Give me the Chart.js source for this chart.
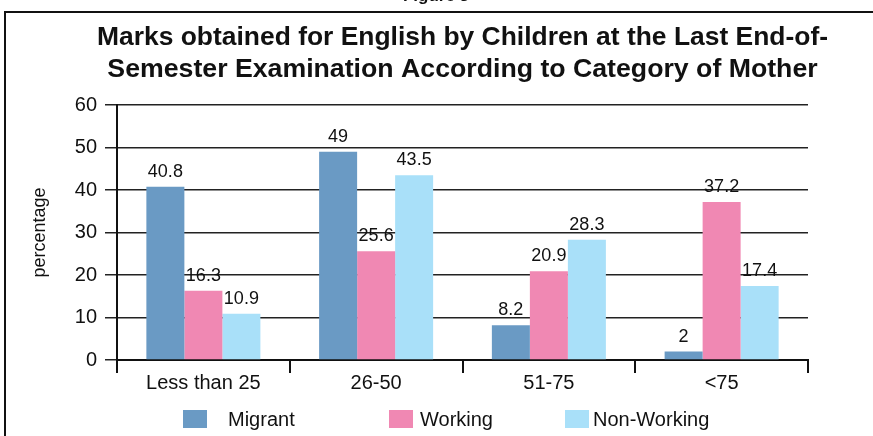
<!DOCTYPE html>
<html>
<head>
<meta charset="utf-8">
<script src="https://cdn.jsdelivr.net/npm/chart.js@4"></script>
<style>
  html, body { margin: 0; padding: 0; background: #fff; }
  #wrap { width: 873px; height: 436px; }
</style>
</head>
<body>
<div id="wrap"><canvas id="myChart" width="873" height="436"></canvas></div>
<script>
const categories = ["Less than 25", "26-50", "51-75", "<75"];
const migrant = [40.8, 49, 8.2, 2];
const working = [16.3, 25.6, 20.9, 37.2];
const nonWorking = [10.9, 43.5, 28.3, 17.4];
const seriesNames = ["Migrant", "Working", "Non-Working"];
const barColors = ["#6a9ac4", "#f088b3", "#a9e0f9"];
const yTicks = [0, 10, 20, 30, 40, 50, 60];

const FONT = "'Liberation Sans', Arial, Helvetica, sans-serif";

// frame + cut-off figure caption
const framePlugin = {
  id: "frame",
  beforeDraw(chart) {
    const ctx = chart.ctx;
    ctx.save();
    ctx.fillStyle = "#111";
    ctx.font = "bold 17px " + FONT;
    ctx.textAlign = "center";
    ctx.textBaseline = "alphabetic";
    ctx.fillText("Figure 3", 436, 1);
    ctx.strokeStyle = "#111";
    ctx.lineWidth = 2;
    ctx.beginPath();
    ctx.moveTo(5, 436);
    ctx.lineTo(5, 12);
    ctx.lineTo(873, 12);
    ctx.stroke();
    ctx.restore();
  }
};

// center the title over the plot area instead of the whole canvas
const titleOverPlot = {
  id: "titleOverPlot",
  afterLayout(chart) {
    const t = chart.titleBlock;
    if (!t) return;
    t.left = chart.chartArea.left - 20;
    t.right = chart.chartArea.right + 20;
    t.width = t.right - t.left;
  }
};

// numbers above bars
const valueLabels = {
  id: "valueLabels",
  afterDatasetsDraw(chart) {
    const ctx = chart.ctx;
    ctx.save();
    ctx.font = "18px " + FONT;
    ctx.fillStyle = "#111";
    ctx.textAlign = "center";
    ctx.textBaseline = "alphabetic";
    chart.data.datasets.forEach((ds, i) => {
      chart.getDatasetMeta(i).data.forEach((bar, j) => {
        ctx.fillText(String(ds.data[j]), bar.x, bar.y - 10);
      });
    });
    ctx.restore();
  }
};

// legend row under the axis, spaced like the original
const legendBoxX = [183, 389, 565];
const legendTextX = [228, 420, 593];
const bottomLegend = {
  id: "bottomLegend",
  afterDraw(chart) {
    const ctx = chart.ctx;
    ctx.save();
    ctx.font = "20px " + FONT;
    ctx.textBaseline = "middle";
    ctx.textAlign = "left";
    chart.data.datasets.forEach((ds, i) => {
      ctx.fillStyle = ds.backgroundColor;
      ctx.fillRect(legendBoxX[i], 410, 24, 18);
      ctx.fillStyle = "#111";
      ctx.fillText(ds.label, legendTextX[i], 420);
    });
    ctx.restore();
  }
};

new Chart("myChart", {
  type: "bar",
  data: {
    labels: categories,
    datasets: [
      { label: seriesNames[0], data: migrant, backgroundColor: barColors[0] },
      { label: seriesNames[1], data: working, backgroundColor: barColors[1] },
      { label: seriesNames[2], data: nonWorking, backgroundColor: barColors[2] }
    ]
  },
  options: {
    responsive: false,
    animation: false,
    categoryPercentage: 0.66,
    barPercentage: 1,
    layout: { padding: { top: 22, left: 25, right: 65, bottom: 43 } },
    plugins: {
      title: {
        display: true,
        text: ["Marks obtained for English by Children at the Last End-of-",
               "Semester Examination According to Category of Mother"],
        color: "#111",
        font: { family: FONT, size: 26.7, weight: "bold", lineHeight: 1.2 },
        padding: { top: 0, bottom: 19 }
      },
      legend: { display: false },
      tooltip: { enabled: false }
    },
    scales: {
      x: {
        grid: {
          offset: true,
          drawOnChartArea: false,
          drawTicks: true,
          tickLength: 13,
          color: "#111",
          lineWidth: 2
        },
        border: { display: true, color: "#111", width: 2 },
        ticks: { color: "#111", font: { family: FONT, size: 20 }, padding: -2 }
      },
      y: {
        min: 0,
        max: 60,
        afterBuildTicks(scale) { scale.ticks = yTicks.map(v => ({ value: v })); },
        afterFit(scale) { scale.width = 92; },
        grid: { color: "#222", lineWidth: 1.5, tickLength: 12 },
        border: { display: true, color: "#111", width: 2 },
        ticks: { color: "#111", font: { family: FONT, size: 20 }, padding: 8 },
        title: {
          display: true,
          text: "percentage",
          color: "#111",
          font: { family: FONT, size: 18 },
          padding: { top: 4, bottom: 0 }
        }
      }
    }
  },
  plugins: [framePlugin, titleOverPlot, valueLabels, bottomLegend]
});
</script>
</body>
</html>
